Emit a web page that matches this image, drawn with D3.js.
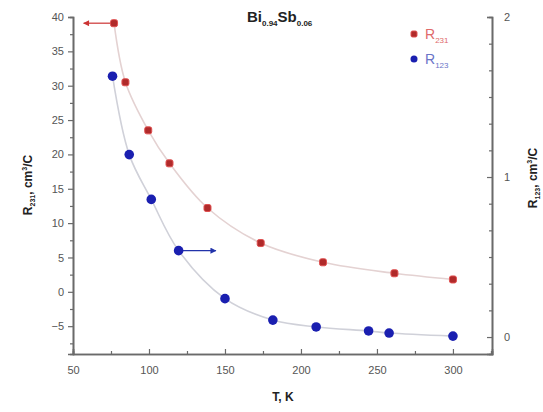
<!DOCTYPE html>
<html>
<head>
<meta charset="utf-8">
<script src="https://cdn.jsdelivr.net/npm/d3@7"></script>
<style>
  body { margin: 0; background: #fff; }
  text { font-family: "Liberation Sans", Arial, sans-serif; }
</style>
</head>
<body>
<div id="container"></div>
<script>
let w = 543;
let h = 412;

// R231 (left axis), red squares
let tRed = [77, 84.5, 99.5, 113.5, 138.5, 173.5, 214.5, 261.5, 300];
let r231 = [39.1, 30.5, 23.5, 18.7, 12.2, 7.1, 4.3, 2.7, 1.8];

// R123 (right axis), blue circles
let tBlue = [76, 87, 101.5, 119.5, 150, 181.5, 210, 244.5, 258, 300];
let r123 = [1.63, 1.14, 0.86, 0.54, 0.24, 0.106, 0.063, 0.038, 0.025, 0.006];

let xTicks = [50, 100, 150, 200, 250, 300];
let yLeftTicks = [-5, 0, 5, 10, 15, 20, 25, 30, 35, 40];
let yRightTicks = [0, 1, 2];

let viz = d3.select('#container')
  .append('svg')
    .attr('width', w)
    .attr('height', h)
    .style('background-color', 'white');

let padL = 73, padR = 492, padT = 17, padB = 354;

let xScale = d3.scaleLinear().domain([50, 325.7]).range([padL, padR]);
let yLeft = d3.scaleLinear().domain([-9.05, 40]).range([padB, padT]);
let yRight = d3.scaleLinear().domain([-0.106, 2]).range([padB, padT]);

let axisColor = '#6a6a6a';
let labelColor = '#555';

// x axis: ticks point inward
let xAxis = d3.axisBottom(xScale).tickValues(xTicks).tickSize(-5).tickPadding(12);
let xMinor = d3.axisBottom(xScale).tickValues(d3.range(75, 326, 50)).tickSize(-3).tickFormat('');
viz.append('g').attr('transform', 'translate(0,' + padB + ')').call(xAxis);
viz.append('g').attr('transform', 'translate(0,' + padB + ')').call(xMinor);

// left axis: ticks outward
let yAxisL = d3.axisLeft(yLeft).tickValues(yLeftTicks).tickSize(5).tickPadding(4);
let yMinorL = d3.axisLeft(yLeft).tickValues(d3.range(-7.5, 40, 5)).tickSize(3).tickFormat('');
viz.append('g').attr('transform', 'translate(' + padL + ',0)').call(yAxisL);
viz.append('g').attr('transform', 'translate(' + padL + ',0)').call(yMinorL);

// right axis: ticks inward
let yAxisR = d3.axisRight(yRight).tickValues(yRightTicks).tickSize(-5).tickPadding(12)
  .tickFormat(d3.format('d'));
let minorR = [];
for (let i = 1; i < 12; i++) { if (i % 6 != 0) minorR.push(i / 6); }
let yMinorR = d3.axisRight(yRight).tickValues(minorR).tickSize(-3).tickFormat('');
viz.append('g').attr('transform', 'translate(' + padR + ',0)').call(yAxisR);
viz.append('g').attr('transform', 'translate(' + padR + ',0)').call(yMinorR);

viz.selectAll('.domain').attr('stroke', axisColor).attr('stroke-width', 1.6);
viz.selectAll('.tick line').attr('stroke', axisColor).attr('stroke-width', 1.2);
viz.selectAll('.tick text').attr('fill', labelColor).style('font-size', '11px')
  .style('font-family', '"Liberation Sans", Arial, sans-serif');

// fitted curves
let redLine = d3.line().x(function(d, i){ return xScale(tRed[i]); })
  .y(function(d){ return yLeft(d); }).curve(d3.curveCatmullRom.alpha(0.5));
let blueLine = d3.line().x(function(d, i){ return xScale(tBlue[i]); })
  .y(function(d){ return yRight(d); }).curve(d3.curveCatmullRom.alpha(0.5));

viz.append('path').attr('d', redLine(r231)).attr('fill', 'none')
  .attr('stroke', '#e4d2d2').attr('stroke-width', 1.6);
viz.append('path').attr('d', blueLine(r123)).attr('fill', 'none')
  .attr('stroke', '#d0d1d9').attr('stroke-width', 1.6);

// arrows
let defs = viz.append('defs');
function marker(id, color){
  defs.append('marker').attr('id', id).attr('viewBox', '0 0 10 10')
    .attr('refX', 9).attr('refY', 5).attr('markerWidth', 7).attr('markerHeight', 6)
    .attr('markerUnits', 'userSpaceOnUse').attr('orient', 'auto')
    .append('path').attr('d', 'M0,0 L10,5 L0,10 z').attr('fill', color);
}
marker('arrRed', '#cc3333');
marker('arrBlue', '#2233aa');

viz.append('line')
  .attr('x1', xScale(tRed[0])).attr('y1', yLeft(r231[0]))
  .attr('x2', xScale(57)).attr('y2', yLeft(r231[0]))
  .attr('stroke', '#cc3333').attr('stroke-width', 1.2).attr('marker-end', 'url(#arrRed)');
viz.append('line')
  .attr('x1', xScale(tBlue[3])).attr('y1', yRight(r123[3]))
  .attr('x2', xScale(144)).attr('y2', yRight(r123[3]))
  .attr('stroke', '#2233aa').attr('stroke-width', 1.2).attr('marker-end', 'url(#arrBlue)');

// points
viz.selectAll('.red').data(r231).enter().append('rect')
  .attr('x', function(d, i){ return xScale(tRed[i]) - 3.5; })
  .attr('y', function(d){ return yLeft(d) - 3.5; })
  .attr('width', 7).attr('height', 7).attr('rx', 2)
  .attr('fill', '#b02a2a').attr('stroke', '#e05050').attr('stroke-width', 1);

viz.selectAll('.blue').data(r123).enter().append('circle')
  .attr('cx', function(d, i){ return xScale(tBlue[i]); })
  .attr('cy', function(d){ return yRight(d); })
  .attr('r', 4.8).attr('fill', '#1a1fb0');

// title
let title = viz.append('text').attr('x', 247).attr('y', 22)
  .attr('font-weight', 'bold').attr('font-size', 15).attr('fill', '#222');
title.append('tspan').text('Bi');
title.append('tspan').attr('font-size', 8).attr('dy', 4).text('0.94');
title.append('tspan').attr('dy', -4).text('Sb');
title.append('tspan').attr('font-size', 8).attr('dy', 4).text('0.06');

// legend
viz.append('rect').attr('x', 411).attr('y', 31).attr('width', 6).attr('height', 6).attr('rx', 1.5)
  .attr('fill', '#b02a2a').attr('stroke', '#e05050');
viz.append('circle').attr('cx', 414).attr('cy', 59).attr('r', 3.5).attr('fill', '#1a1fb0');
let lg1 = viz.append('text').attr('x', 425).attr('y', 39).attr('font-size', 14).attr('fill', '#e06a6a');
lg1.append('tspan').text('R');
lg1.append('tspan').attr('font-size', 8).attr('dy', 4).text('231');
let lg2 = viz.append('text').attr('x', 425).attr('y', 64).attr('font-size', 14).attr('fill', '#6a74c8');
lg2.append('tspan').text('R');
lg2.append('tspan').attr('font-size', 8).attr('dy', 4).text('123');

// axis titles
let yl = viz.append('text').attr('transform', 'translate(32,' + 185 + ') rotate(-90)')
  .attr('text-anchor', 'middle').attr('font-weight', 'bold').attr('font-size', 12).attr('fill', '#222');
yl.append('tspan').text('R');
yl.append('tspan').attr('font-size', 7).attr('dy', 3).text('231');
yl.append('tspan').attr('dy', -3).text(', cm');
yl.append('tspan').attr('font-size', 7).attr('dy', -5).text('3');
yl.append('tspan').attr('dy', 5).text('/C');

let yr = viz.append('text').attr('transform', 'translate(537,' + 178 + ') rotate(-90)')
  .attr('text-anchor', 'middle').attr('font-weight', 'bold').attr('font-size', 12).attr('fill', '#222');
yr.append('tspan').text('R');
yr.append('tspan').attr('font-size', 7).attr('dy', 3).text('123');
yr.append('tspan').attr('dy', -3).text(', cm');
yr.append('tspan').attr('font-size', 7).attr('dy', -5).text('3');
yr.append('tspan').attr('dy', 5).text('/C');

viz.append('text').attr('x', 283).attr('y', 401).attr('text-anchor', 'middle')
  .attr('font-weight', 'bold').attr('font-size', 12).attr('fill', '#222').text('T, K');
</script>
</body>
</html>
